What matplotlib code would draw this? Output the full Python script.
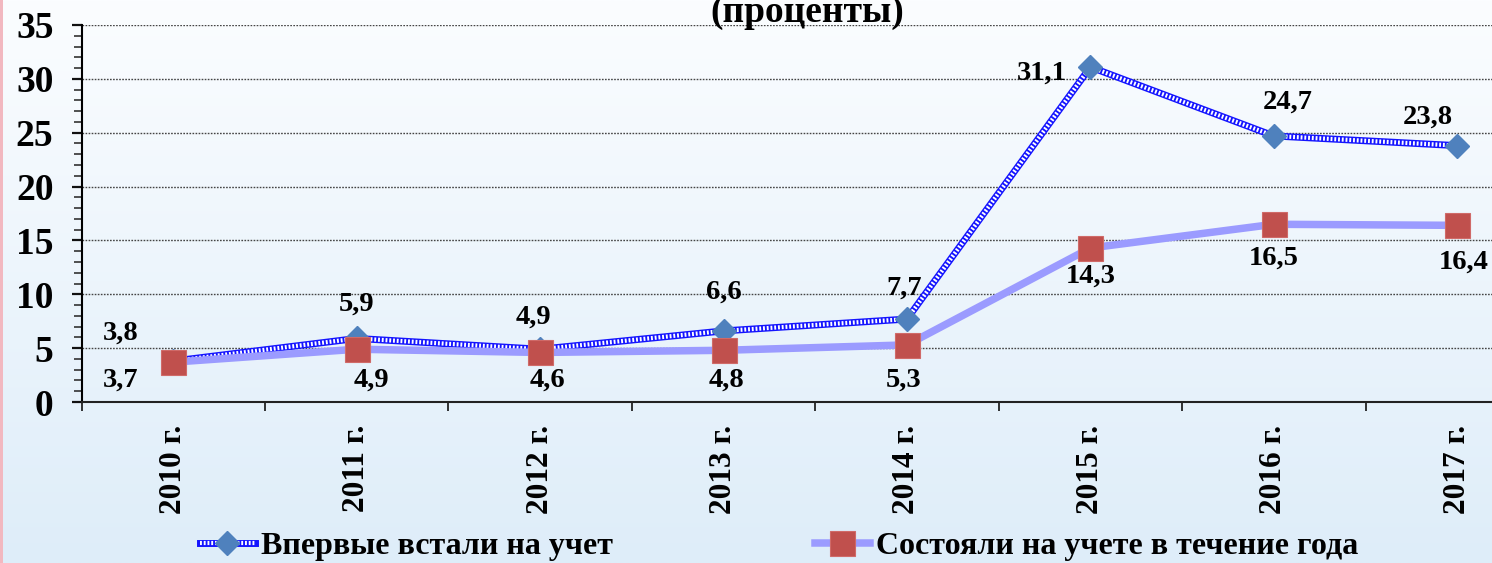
import matplotlib
matplotlib.use("Agg")
import matplotlib.pyplot as plt
import numpy as np
from matplotlib.lines import Line2D
from matplotlib.legend_handler import HandlerTuple
from matplotlib.patches import Rectangle
from matplotlib.ticker import MultipleLocator, FixedLocator

# ---- data ----
years = ["2010 г.", "2011 г.", "2012 г.", "2013 г.", "2014 г.", "2015 г.", "2016 г.", "2017 г."]
series1_name = "Впервые встали на учет"
series1 = [3.8, 5.9, 4.9, 6.6, 7.7, 31.1, 24.7, 23.8]
series2_name = "Состояли на учете в течение года"
series2 = [3.7, 4.9, 4.6, 4.8, 5.3, 14.3, 16.5, 16.4]
labels1 = ["3,8", "5,9", "4,9", "6,6", "7,7", "31,1", "24,7", "23,8"]
labels2 = ["3,7", "4,9", "4,6", "4,8", "5,3", "14,3", "16,5", "16,4"]
title_text = "(проценты)"

# label offsets (pixels)
off1 = [(-53, 28), (0, 34), (-7, 32), (0, 39), (-3, 31), (-49, -6), (14, 34), (-29, 28)]
off2 = [(-53, -18), (15, -31), (7, -28), (3, -30), (-3, -35), (0, -28), (0, -34), (6, -37)]

plt.rcParams['font.family'] = ['Liberation Serif', 'DejaVu Serif']
plt.rcParams['font.weight'] = 'bold'

W, H = 1492, 563
fig = plt.figure(figsize=(W / 100, H / 100), dpi=100)

# background gradient
bg = fig.add_axes([0, 0, 1, 1], zorder=-10)
top = np.array([251, 253, 255]) / 255
bot = np.array([222, 237, 249]) / 255
t = np.linspace(0, 1, 256)[:, None]
grad = top[None, :] * (1 - t) + bot[None, :] * t
bg.imshow(grad[:, None, :].repeat(2, axis=1), aspect='auto', extent=[0, 1, 0, 1])
bg.set_axis_off()
fig.patches.append(Rectangle((0, 0), 3 / W, 1, transform=fig.transFigure,
                             facecolor='#f2b8c0', edgecolor='none', zorder=-5))

left = 81.5 / W
width = 1467.5 / W
bottom = (H - 402) / H
height = (402 - 25) / H
ax = fig.add_axes([left, bottom, width, height])
ax.set_facecolor('none')

x = np.arange(len(years))

S1_BLUE = '#1414ff'
S1_LW = 5.0
WHITE_LW = 3.0
WHITE_DASH = (0, (0.45, 0.45))

# series 1: checkered blue line
ax.plot(x, series1, color=S1_BLUE, lw=S1_LW, solid_capstyle='butt', zorder=3)
ax.plot(x, series1, color='white', lw=WHITE_LW, linestyle=WHITE_DASH, zorder=3.1)
ax.plot(x, series1, linestyle='none', marker='D', ms=12.7, color='#4f81bd',
        markeredgecolor='#4f81bd', zorder=3.2)

# series 2
ax.plot(x, series2, color='#9b9bff', lw=5.4, solid_capstyle='butt', zorder=4)
ax.plot(x, series2, linestyle='none', marker='s', ms=18.0, color='#c0504d',
        markeredgecolor='#d06a68', markeredgewidth=0.8, zorder=4.2)

for xi, v, lab, (dx, dy) in zip(x, series1, labels1, off1):
    ax.annotate(lab, (xi, v), xytext=(dx, dy), textcoords='offset pixels',
                ha='center', va='center', fontsize=20.5, fontweight='bold', zorder=6)
for xi, v, lab, (dx, dy) in zip(x, series2, labels2, off2):
    ax.annotate(lab, (xi, v), xytext=(dx, dy), textcoords='offset pixels',
                ha='center', va='center', fontsize=20.5, fontweight='bold', zorder=6)

ax.set_xlim(-0.5, len(years) - 0.5)
ax.set_ylim(0, 35)
ax.yaxis.set_major_locator(MultipleLocator(5))
ax.yaxis.set_minor_locator(MultipleLocator(1))
ax.set_xticks(x)
ax.set_xticklabels(years, rotation=90, fontsize=22.5, fontweight='bold')
ax.xaxis.set_minor_locator(FixedLocator(np.arange(-0.5, len(years), 1.0)))
ax.tick_params(axis='x', which='major', length=0, pad=16.5)
ax.tick_params(axis='x', which='minor', length=6.5, width=1.3, color='#222222', direction='out')
ax.tick_params(axis='y', which='major', length=7.2, width=1.6, color='#111111', direction='out',
               labelsize=27, pad=13)
ax.tick_params(axis='y', which='minor', length=6, width=1.2, color='#333333', direction='out')
for lab in ax.get_yticklabels():
    lab.set_fontweight('bold')

ax.grid(axis='y', which='major', color='#444444', lw=1.0, linestyle=(0, (1.2, 1.0)), zorder=1)
ax.set_axisbelow(True)
ax.spines['top'].set_visible(False)
ax.spines['right'].set_visible(False)
ax.spines['left'].set_linewidth(1.5)
ax.spines['bottom'].set_linewidth(1.5)
ax.spines['bottom'].set_color('#222222')

fig.text(807 / W, 1 - 22 / H, title_text, ha='center', va='baseline',
         fontsize=27, fontweight='bold')

# legend
h1 = (Line2D([], [], color=S1_BLUE, lw=S1_LW),
      Line2D([], [], color='white', lw=WHITE_LW, linestyle=WHITE_DASH),
      Line2D([], [], linestyle='none', marker='D', ms=12.7, color='#4f81bd'))
h2 = (Line2D([], [], color='#9b9bff', lw=5.4),
      Line2D([], [], linestyle='none', marker='s', ms=18.0, color='#c0504d',
             markeredgecolor='#d06a68', markeredgewidth=0.8))
leg = fig.legend([h1, h2], [series1_name, series2_name],
                 handler_map={tuple: HandlerTuple(ndivide=1)},
                 loc='center left', bbox_to_anchor=(200 / W, 1 - 546 / H),
                 ncol=2, frameon=False, borderaxespad=0, borderpad=0,
                 prop={'size': 23, 'weight': 'bold'},
                 handlelength=1.72, handletextpad=0.2, columnspacing=6.3)

fig.savefig("out.png", dpi=100)
